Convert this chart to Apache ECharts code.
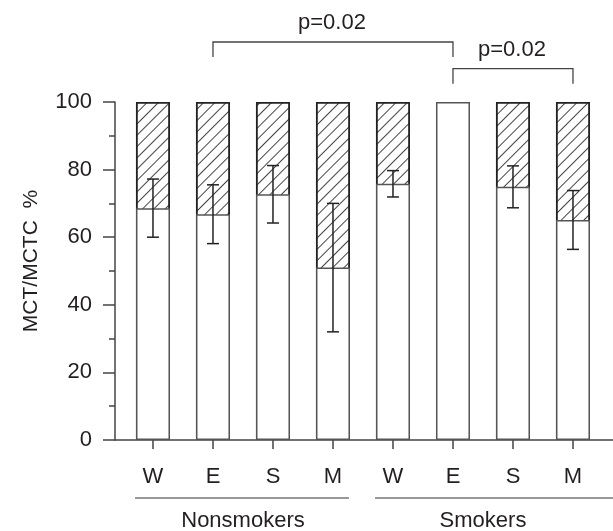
<!DOCTYPE html>
<html>
<head>
<meta charset="utf-8">
<style>html,body{margin:0;padding:0;background:#fff}#c{width:613px;height:531px}</style>
<script src="https://cdn.jsdelivr.net/npm/echarts@6/dist/echarts.min.js"></script>
</head>
<body>
<div id="c"></div>
<script>
// ---- data ----
const categories = ['W', 'E', 'S', 'M', 'W', 'E', 'S', 'M'];
const mctPct = [68.6, 66.8, 72.7, 51.0, 75.8, 100, 74.9, 65.1];
const errHalf = [8.6, 8.7, 8.5, 19.0, 3.9, 0, 6.2, 8.7];
const groupNames = ['Nonsmokers', 'Smokers'];
const groupFirst = [0, 4];
const groupLast = [3, 7];
const compareFrom = [1, 5];
const compareTo = [5, 7];
const pLabels = ['p=0.02', 'p=0.02'];
const TOTAL = 100;

// ---- derived ----
const idx = categories.map((_, i) => i);
const whiteData = mctPct.map((v, i) => [i, v]);
// hatched part (MCTC share) spans from the MCT value up to 100 %; white bar is drawn over it
const hatchData = mctPct.map((v, i) => (TOTAL - v > 0 ? [i, TOTAL] : null)).filter(d => d);
const errData = [];
mctPct.forEach((m, i) => { if (errHalf[i] > 0) errData.push([i, m - errHalf[i], m + errHalf[i]]); });
const groupData = groupNames.map((n, g) => [groupFirst[g], groupLast[g], g]);
const bracketData = pLabels.map((p, k) => [compareFrom[k], compareTo[k], k]);

const TXT = '#231f20';
const FONT = "'Liberation Sans', Arial, sans-serif";
const BAR_W = 34;

const chart = echarts.init(document.getElementById('c'), null, { renderer: 'canvas' });
chart.setOption({
  animation: false,
  backgroundColor: '#fff',
  textStyle: { fontFamily: FONT, color: TXT },
  grid: { left: 115, right: 0, top: 102, bottom: 91, containLabel: false },
  xAxis: {
    type: 'value',
    min: -0.633, max: 7.667,
    splitLine: { show: false },
    axisLine: { show: true, onZero: false, lineStyle: { color: '#444', width: 1.5 } },
    axisTick: { show: true, length: 9, customValues: idx, lineStyle: { color: '#444', width: 1.5 } },
    axisLabel: {
      customValues: idx, margin: 26, fontSize: 22, color: TXT, fontFamily: FONT,
      formatter: v => categories[Math.round(v)]
    }
  },
  yAxis: {
    type: 'value',
    min: 0, max: TOTAL, interval: 20,
    name: 'MCT/MCTC  %', nameLocation: 'middle', nameGap: 73,
    nameTextStyle: { fontSize: 21, color: TXT, fontFamily: FONT, padding: [0, 0, 0, 20] },
    splitLine: { show: false },
    axisLine: { show: true, onZero: false, lineStyle: { color: '#444', width: 1.5 } },
    axisTick: { show: true, length: 12, lineStyle: { color: '#444', width: 1.5 } },
    minorTick: { show: true, splitNumber: 2, length: 6, lineStyle: { color: '#444', width: 1.5 } },
    axisLabel: { margin: 23, fontSize: 22, color: TXT, fontFamily: FONT }
  },
  series: [
    {
      type: 'bar', barWidth: BAR_W, barGap: '-100%', data: hatchData,
      itemStyle: {
        color: '#fff', borderColor: '#222', borderWidth: 1.8,
        decal: { symbol: 'rect', symbolSize: 1, color: '#444', backgroundColor: '#fff',
          dashArrayX: [1, 0], dashArrayY: [1, 6.5], rotation: -Math.PI / 4 }
      },
      z: 2
    },
    {
      type: 'bar', barWidth: BAR_W, barGap: '-100%', data: whiteData,
      itemStyle: { color: '#fff', borderColor: '#555', borderWidth: 1.5 },
      z: 3
    },
    {
      type: 'custom', coordinateSystem: 'cartesian2d', clip: false, z: 5,
      data: errData, encode: { x: 0, y: [1, 2] },
      renderItem: (params, api) => {
        const x = api.value(0);
        const lo = api.coord([x, api.value(1)]);
        const hi = api.coord([x, api.value(2)]);
        const cap = 6;
        const st = { stroke: '#222', lineWidth: 1.5 };
        return { type: 'group', children: [
          { type: 'line', shape: { x1: lo[0], y1: lo[1], x2: hi[0], y2: hi[1] }, style: st },
          { type: 'line', shape: { x1: hi[0] - cap, y1: hi[1], x2: hi[0] + cap, y2: hi[1] }, style: st },
          { type: 'line', shape: { x1: lo[0] - cap, y1: lo[1], x2: lo[0] + cap, y2: lo[1] }, style: st }
        ] };
      }
    },
    {
      type: 'custom', coordinateSystem: 'cartesian2d', clip: false, z: 5,
      data: groupData, encode: { x: [0, 1] },
      renderItem: (params, api) => {
        const g = api.value(2);
        const a = api.coord([api.value(0), 0]);
        const b = api.coord([api.value(1), 0]);
        const x1 = a[0] - BAR_W / 2 - 1;
        const x2 = (g === groupNames.length - 1) ? params.coordSys.x + params.coordSys.width : b[0] + BAR_W / 2 - 1;
        const yLine = a[1] + 58;
        return { type: 'group', children: [
          { type: 'line', shape: { x1: x1, y1: yLine, x2: x2, y2: yLine }, style: { stroke: '#333', lineWidth: 1.2 } },
          { type: 'text', x: (a[0] + b[0]) / 2, y: yLine + 23,
            style: { text: groupNames[g], fill: TXT, font: '22px ' + FONT, textAlign: 'center', textVerticalAlign: 'middle' } }
        ] };
      }
    },
    {
      type: 'custom', coordinateSystem: 'cartesian2d', clip: false, z: 5,
      data: bracketData, encode: { x: [0, 1] },
      renderItem: (params, api) => {
        const k = api.value(2);
        const a = api.coord([api.value(0), TOTAL]);
        const b = api.coord([api.value(1), TOTAL]);
        const yTop = a[1] - 60 + k * 26.7;
        const leg = 15;
        const st = { stroke: '#444', lineWidth: 1.3, fill: null };
        return { type: 'group', children: [
          { type: 'polyline', shape: { points: [[a[0], yTop + leg], [a[0], yTop], [b[0], yTop], [b[0], yTop + leg]] }, style: st },
          { type: 'text', x: (a[0] + b[0]) / 2 - 1, y: yTop - 19,
            style: { text: pLabels[k], fill: TXT, font: '22px ' + FONT, textAlign: 'center', textVerticalAlign: 'middle' } }
        ] };
      }
    }
  ]
});
</script>
</body>
</html>
